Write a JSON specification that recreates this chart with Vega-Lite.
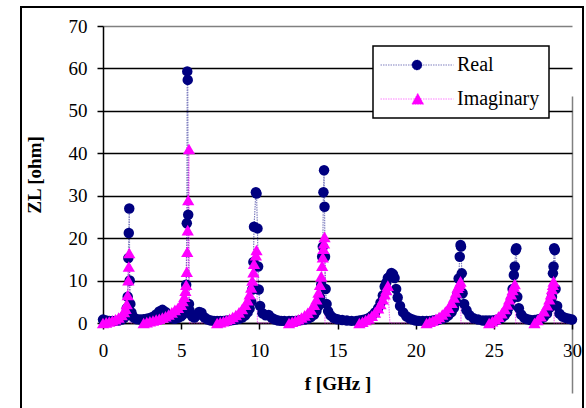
{
  "$schema": "https://vega.github.io/schema/vega-lite/v6.json",
  "width": 562,
  "height": 405,
  "autosize": {"type": "none"},
  "padding": {"left": 21, "top": 7, "right": 3, "bottom": 0},
  "background": "white",
  "config": {
    "font": "Liberation Serif",
    "view": {"stroke": "black", "strokeWidth": 2},
    "axis": {
      "labelFont": "Liberation Serif", "labelFontSize": 19, "labelColor": "black",
      "titleFont": "Liberation Serif", "titleFontSize": 19, "titleFontWeight": "bold", "titleColor": "black",
      "domainColor": "black", "domainWidth": 1.5, "tickColor": "black", "tickWidth": 1.5, "tickSize": 6
    }
  },
  "datasets": {
    "zl": [
      {"f": 0, "Real": 0.8, "Imaginary": 0},
      {"f": 0.2, "Real": 0.6, "Imaginary": 0.15},
      {"f": 0.4, "Real": 0.5, "Imaginary": 0.35},
      {"f": 0.6, "Real": 0.5, "Imaginary": 0.6},
      {"f": 0.8, "Real": 0.5, "Imaginary": 0.9},
      {"f": 1.0, "Real": 0.6, "Imaginary": 1.3},
      {"f": 1.2, "Real": 0.8, "Imaginary": 1.9},
      {"f": 1.35, "Real": 1.2, "Imaginary": 2.6},
      {"f": 1.45, "Real": 2.0, "Imaginary": 3.4},
      {"f": 1.52, "Real": 3.5, "Imaginary": 4.5},
      {"f": 1.58, "Real": 6.2, "Imaginary": 6.6},
      {"f": 1.62, "Real": 15.3, "Imaginary": 10.1},
      {"f": 1.65, "Real": 21.2, "Imaginary": 13.3},
      {"f": 1.68, "Real": 27, "Imaginary": 16.5},
      {"f": 1.71, "Real": 10, "Imaginary": -20},
      {"f": 1.75, "Real": 4.5, "Imaginary": -10},
      {"f": 1.82, "Real": 2.5, "Imaginary": -6},
      {"f": 1.9, "Real": 1.6, "Imaginary": -4},
      {"f": 2.0, "Real": 1.2, "Imaginary": -3},
      {"f": 2.2, "Real": 0.9, "Imaginary": -2},
      {"f": 2.4, "Real": 0.8, "Imaginary": -1},
      {"f": 2.6, "Real": 0.9, "Imaginary": 0},
      {"f": 2.8, "Real": 1.0, "Imaginary": 0.2},
      {"f": 3.0, "Real": 1.2, "Imaginary": 0.4},
      {"f": 3.2, "Real": 1.5, "Imaginary": 0.6},
      {"f": 3.4, "Real": 2.0, "Imaginary": 0.8},
      {"f": 3.6, "Real": 2.7, "Imaginary": 1.0},
      {"f": 3.8, "Real": 3.1, "Imaginary": 1.3},
      {"f": 4.0, "Real": 2.6, "Imaginary": 1.6},
      {"f": 4.2, "Real": 1.6, "Imaginary": 2.0},
      {"f": 4.4, "Real": 1.1, "Imaginary": 2.5},
      {"f": 4.6, "Real": 1.0, "Imaginary": 3.1},
      {"f": 4.8, "Real": 1.2, "Imaginary": 3.6},
      {"f": 5.0, "Real": 1.6, "Imaginary": 4.3},
      {"f": 5.1, "Real": 2.0, "Imaginary": 5.2},
      {"f": 5.2, "Real": 2.8, "Imaginary": 6.2},
      {"f": 5.27, "Real": 3.8, "Imaginary": 7.6},
      {"f": 5.32, "Real": 9.0, "Imaginary": 9.0},
      {"f": 5.36, "Real": 23.5, "Imaginary": 12.1},
      {"f": 5.39, "Real": 59.3, "Imaginary": 16.8},
      {"f": 5.42, "Real": 57.3, "Imaginary": 21.9},
      {"f": 5.45, "Real": 25.5, "Imaginary": 29},
      {"f": 5.5, "Real": 4.5, "Imaginary": 41},
      {"f": 5.53, "Real": 3.0, "Imaginary": -30},
      {"f": 5.6, "Real": 2.2, "Imaginary": -12},
      {"f": 5.7, "Real": 1.6, "Imaginary": -6},
      {"f": 5.85, "Real": 1.3, "Imaginary": -3.5},
      {"f": 6.0, "Real": 1.8, "Imaginary": -2.5},
      {"f": 6.15, "Real": 2.6, "Imaginary": -2},
      {"f": 6.3, "Real": 2.4, "Imaginary": -1.5},
      {"f": 6.5, "Real": 1.3, "Imaginary": -1},
      {"f": 6.7, "Real": 0.8, "Imaginary": -0.6},
      {"f": 6.9, "Real": 0.6, "Imaginary": -0.4},
      {"f": 7.1, "Real": 0.5, "Imaginary": -0.2},
      {"f": 7.3, "Real": 0.5, "Imaginary": 0},
      {"f": 7.5, "Real": 0.5, "Imaginary": 0.2},
      {"f": 7.7, "Real": 0.5, "Imaginary": 0.4},
      {"f": 7.9, "Real": 0.6, "Imaginary": 0.7},
      {"f": 8.1, "Real": 0.6, "Imaginary": 1.0},
      {"f": 8.3, "Real": 0.7, "Imaginary": 1.4},
      {"f": 8.5, "Real": 0.8, "Imaginary": 1.9},
      {"f": 8.7, "Real": 1.0, "Imaginary": 2.5},
      {"f": 8.9, "Real": 1.3, "Imaginary": 3.3},
      {"f": 9.1, "Real": 1.8, "Imaginary": 4.3},
      {"f": 9.25, "Real": 2.5, "Imaginary": 5.4},
      {"f": 9.38, "Real": 3.4, "Imaginary": 6.8},
      {"f": 9.48, "Real": 5.0, "Imaginary": 8.4},
      {"f": 9.55, "Real": 7.9, "Imaginary": 10.0},
      {"f": 9.62, "Real": 14.4, "Imaginary": 12.0},
      {"f": 9.66, "Real": 22.7, "Imaginary": 14.0},
      {"f": 9.78, "Real": 30.8, "Imaginary": 16.0},
      {"f": 9.82, "Real": 30.5, "Imaginary": 17.2},
      {"f": 9.88, "Real": 22.3, "Imaginary": -25},
      {"f": 9.92, "Real": 13.3, "Imaginary": -15},
      {"f": 9.96, "Real": 7.9, "Imaginary": -10},
      {"f": 10.05, "Real": 4.0, "Imaginary": -6},
      {"f": 10.2, "Real": 2.3, "Imaginary": -4},
      {"f": 10.4, "Real": 1.8, "Imaginary": -3},
      {"f": 10.6, "Real": 1.9, "Imaginary": -2},
      {"f": 10.8, "Real": 1.2, "Imaginary": -1.4},
      {"f": 11.0, "Real": 0.8, "Imaginary": -1},
      {"f": 11.2, "Real": 0.6, "Imaginary": -0.7},
      {"f": 11.4, "Real": 0.5, "Imaginary": -0.4},
      {"f": 11.6, "Real": 0.5, "Imaginary": -0.2},
      {"f": 11.9, "Real": 0.5, "Imaginary": 0},
      {"f": 12.1, "Real": 0.5, "Imaginary": 0.3},
      {"f": 12.3, "Real": 0.5, "Imaginary": 0.6},
      {"f": 12.5, "Real": 0.6, "Imaginary": 0.9},
      {"f": 12.7, "Real": 0.7, "Imaginary": 1.3},
      {"f": 12.9, "Real": 0.8, "Imaginary": 1.8},
      {"f": 13.1, "Real": 1.0, "Imaginary": 2.4},
      {"f": 13.3, "Real": 1.4, "Imaginary": 3.2},
      {"f": 13.5, "Real": 2.0, "Imaginary": 4.3},
      {"f": 13.65, "Real": 2.8, "Imaginary": 5.6},
      {"f": 13.78, "Real": 4.0, "Imaginary": 7.2},
      {"f": 13.88, "Real": 6.0, "Imaginary": 9.0},
      {"f": 13.96, "Real": 9.0, "Imaginary": 11.0},
      {"f": 14.02, "Real": 15.6, "Imaginary": 13.5},
      {"f": 14.06, "Real": 18.0, "Imaginary": 15.5},
      {"f": 14.1, "Real": 30.8, "Imaginary": 17.5},
      {"f": 14.14, "Real": 36.0, "Imaginary": 18.8},
      {"f": 14.17, "Real": 27.4, "Imaginary": 20.3},
      {"f": 14.2, "Real": 15.6, "Imaginary": -30},
      {"f": 14.24, "Real": 8.0, "Imaginary": -15},
      {"f": 14.3, "Real": 4.5, "Imaginary": -9},
      {"f": 14.4, "Real": 2.8, "Imaginary": -6},
      {"f": 14.55, "Real": 1.8, "Imaginary": -4},
      {"f": 14.75, "Real": 1.2, "Imaginary": -3},
      {"f": 15.0, "Real": 0.9, "Imaginary": -2.2},
      {"f": 15.3, "Real": 0.7, "Imaginary": -1.5},
      {"f": 15.6, "Real": 0.6, "Imaginary": -1.0},
      {"f": 15.9, "Real": 0.5, "Imaginary": -0.6},
      {"f": 16.2, "Real": 0.5, "Imaginary": -0.2},
      {"f": 16.4, "Real": 0.6, "Imaginary": 0},
      {"f": 16.6, "Real": 0.7, "Imaginary": 0.3},
      {"f": 16.8, "Real": 0.9, "Imaginary": 0.7},
      {"f": 17.0, "Real": 1.2, "Imaginary": 1.1},
      {"f": 17.2, "Real": 1.7, "Imaginary": 1.7},
      {"f": 17.4, "Real": 2.5, "Imaginary": 2.5},
      {"f": 17.6, "Real": 3.5, "Imaginary": 3.5},
      {"f": 17.75, "Real": 4.8, "Imaginary": 4.5},
      {"f": 17.9, "Real": 6.5, "Imaginary": 5.6},
      {"f": 18.02, "Real": 8.6, "Imaginary": 6.8},
      {"f": 18.12, "Real": 9.5, "Imaginary": 7.8},
      {"f": 18.22, "Real": 10.6, "Imaginary": 8.8},
      {"f": 18.35, "Real": 11.0, "Imaginary": -6},
      {"f": 18.45, "Real": 11.8, "Imaginary": -5},
      {"f": 18.55, "Real": 11.5, "Imaginary": -4.5},
      {"f": 18.65, "Real": 10.6, "Imaginary": -4},
      {"f": 18.75, "Real": 8.0, "Imaginary": -3.5},
      {"f": 18.85, "Real": 6.0, "Imaginary": -3},
      {"f": 19.0, "Real": 4.0, "Imaginary": -2.5},
      {"f": 19.2, "Real": 2.5, "Imaginary": -2},
      {"f": 19.4, "Real": 1.6, "Imaginary": -1.5},
      {"f": 19.6, "Real": 1.1, "Imaginary": -1.1},
      {"f": 19.8, "Real": 0.8, "Imaginary": -0.8},
      {"f": 20.0, "Real": 0.6, "Imaginary": -0.6},
      {"f": 20.2, "Real": 0.5, "Imaginary": -0.4},
      {"f": 20.45, "Real": 0.5, "Imaginary": -0.2},
      {"f": 20.7, "Real": 0.5, "Imaginary": 0},
      {"f": 20.9, "Real": 0.5, "Imaginary": 0.3},
      {"f": 21.1, "Real": 0.6, "Imaginary": 0.6},
      {"f": 21.3, "Real": 0.7, "Imaginary": 1.0},
      {"f": 21.5, "Real": 0.8, "Imaginary": 1.4},
      {"f": 21.7, "Real": 1.0, "Imaginary": 2.0},
      {"f": 21.9, "Real": 1.3, "Imaginary": 2.7},
      {"f": 22.1, "Real": 1.8, "Imaginary": 3.6},
      {"f": 22.3, "Real": 2.6, "Imaginary": 4.8},
      {"f": 22.45, "Real": 3.6, "Imaginary": 6.0},
      {"f": 22.58, "Real": 5.0, "Imaginary": 7.2},
      {"f": 22.68, "Real": 7.0, "Imaginary": 8.3},
      {"f": 22.75, "Real": 10.5, "Imaginary": 8.8},
      {"f": 22.82, "Real": 15.6, "Imaginary": 9.3},
      {"f": 22.87, "Real": 18.4, "Imaginary": 9.8},
      {"f": 22.9, "Real": 18.0, "Imaginary": -15},
      {"f": 22.95, "Real": 11.7, "Imaginary": -10},
      {"f": 23.0, "Real": 7.0, "Imaginary": -7},
      {"f": 23.1, "Real": 4.5, "Imaginary": -5},
      {"f": 23.25, "Real": 3.0, "Imaginary": -4},
      {"f": 23.45, "Real": 1.8, "Imaginary": -3},
      {"f": 23.7, "Real": 1.1, "Imaginary": -2},
      {"f": 24.0, "Real": 0.8, "Imaginary": -1.2},
      {"f": 24.3, "Real": 0.6, "Imaginary": -0.6},
      {"f": 24.5, "Real": 0.6, "Imaginary": -0.3},
      {"f": 24.7, "Real": 0.6, "Imaginary": 0},
      {"f": 24.9, "Real": 0.6, "Imaginary": 0.4},
      {"f": 25.1, "Real": 0.7, "Imaginary": 0.9},
      {"f": 25.3, "Real": 0.9, "Imaginary": 1.5},
      {"f": 25.5, "Real": 1.2, "Imaginary": 2.3},
      {"f": 25.7, "Real": 1.8, "Imaginary": 3.3},
      {"f": 25.85, "Real": 2.6, "Imaginary": 4.4},
      {"f": 25.98, "Real": 3.8, "Imaginary": 5.6},
      {"f": 26.1, "Real": 5.5, "Imaginary": 6.8},
      {"f": 26.2, "Real": 8.0, "Imaginary": 7.8},
      {"f": 26.28, "Real": 11.3, "Imaginary": 8.6},
      {"f": 26.34, "Real": 13.3, "Imaginary": 9.2},
      {"f": 26.4, "Real": 17.2, "Imaginary": -12},
      {"f": 26.44, "Real": 17.6, "Imaginary": -8},
      {"f": 26.5, "Real": 6.2, "Imaginary": -6},
      {"f": 26.6, "Real": 3.5, "Imaginary": -4.5},
      {"f": 26.75, "Real": 2.0, "Imaginary": -3.2},
      {"f": 26.95, "Real": 1.2, "Imaginary": -2},
      {"f": 27.15, "Real": 0.9, "Imaginary": -1.2},
      {"f": 27.35, "Real": 0.7, "Imaginary": -0.5},
      {"f": 27.6, "Real": 0.7, "Imaginary": 0},
      {"f": 27.8, "Real": 0.8, "Imaginary": 0.7},
      {"f": 28.0, "Real": 1.0, "Imaginary": 1.6},
      {"f": 28.2, "Real": 1.4, "Imaginary": 2.8},
      {"f": 28.4, "Real": 2.2, "Imaginary": 4.2},
      {"f": 28.55, "Real": 3.5, "Imaginary": 5.6},
      {"f": 28.65, "Real": 5.0, "Imaginary": 6.8},
      {"f": 28.72, "Real": 6.2, "Imaginary": 8.0},
      {"f": 28.78, "Real": 11.7, "Imaginary": 9.0},
      {"f": 28.82, "Real": 13.3, "Imaginary": 9.8},
      {"f": 28.86, "Real": 17.6, "Imaginary": -12},
      {"f": 28.9, "Real": 17.2, "Imaginary": -8},
      {"f": 28.95, "Real": 8.0, "Imaginary": -6},
      {"f": 29.05, "Real": 4.0, "Imaginary": -4.5},
      {"f": 29.2, "Real": 2.2, "Imaginary": -3.2},
      {"f": 29.4, "Real": 1.5, "Imaginary": -2.2},
      {"f": 29.6, "Real": 1.2, "Imaginary": -1.5},
      {"f": 29.8, "Real": 1.0, "Imaginary": -1.0},
      {"f": 30.0, "Real": 0.8, "Imaginary": -0.6}
    ]
  },
  "data": {"name": "zl"},
  "transform": [{"fold": ["Real", "Imaginary"], "as": ["series", "z"]}],
  "encoding": {
    "x": {
      "field": "f", "type": "quantitative",
      "scale": {"domain": [0, 30], "nice": false, "zero": false, "range": [82, 551]},
      "axis": {
        "title": "f [GHz ]", "values": [0, 5, 10, 15, 20, 25, 30], "offset": -89,
        "grid": true, "gridColor": "#808080", "gridWidth": 1.5,
        "gridOpacity": {"condition": {"test": "datum.value === 30", "value": 1}, "value": 0},
        "labelFlush": false, "labelPadding": 12, "titlePadding": 14
      }
    },
    "y": {
      "field": "z", "type": "quantitative",
      "scale": {"domain": [0, 70], "nice": false, "clamp": true, "range": [316, 19]},
      "axis": {
        "title": "ZL [ohm]", "values": [0, 10, 20, 30, 40, 50, 60, 70], "offset": -82,
        "grid": true,
        "gridColor": {"condition": {"test": "datum.value === 70", "value": "#808080"}, "value": "black"},
        "gridWidth": 1.5, "labelPadding": 10, "titlePadding": 24
      }
    },
    "color": {
      "field": "series", "type": "nominal",
      "scale": {"domain": ["Real", "Imaginary"], "range": ["#000080", "#ff00ff"]}
    }
  },
  "layer": [
    {
      "transform": [{"filter": "datum.series === 'Imaginary'"}],
      "mark": {"type": "line", "strokeWidth": 1.2, "strokeDash": [1.5, 1], "opacity": 0.6},
      "encoding": {
        "color": {
          "field": "series", "type": "nominal",
          "legend": {
            "title": null, "orient": "none", "legendX": 352, "legendY": 39,
            "padding": 9, "symbolSize": 100, "symbolOffset": 25, "labelOffset": 30, "rowPadding": 14,
            "strokeColor": "black", "fillColor": "white",
            "labelFont": "Liberation Serif", "labelFontSize": 20, "labelColor": "black",
            "encoding": {
              "legend": {"strokeWidth": {"value": 1.5}},
              "symbols": {
                "shape": {"condition": {"test": "datum.value === 'Real'", "value": "M-7.3,0H7.3M-1,0A1,1 0 1,1 1,0A1,1 0 1,1 -1,0Z"}, "value": "M-7.3,0H7.3M0.15,-1.15L1.35,1.05L-1.05,1.05Z"},
                "size": {"value": 100},
                "fill": {"condition": {"test": "datum.value === 'Real'", "value": "#000080"}, "value": "#ff00ff"},
                "stroke": {"condition": {"test": "datum.value === 'Real'", "value": "#000080"}, "value": "#ff00ff"},
                "strokeWidth": {"value": 1},
                "strokeDash": {"value": [1.5, 1]},
                "opacity": {"value": 1},
                "fillOpacity": {"value": 1},
                "strokeOpacity": {"value": 0.5}
              }
            }
          }
        }
      }
    },
    {
      "transform": [{"filter": "datum.series === 'Real'"}],
      "mark": {"type": "line", "strokeWidth": 1.2, "strokeDash": [1.5, 1], "opacity": 0.5}
    },
    {
      "transform": [{"filter": "datum.series === 'Real'"}],
      "mark": {"type": "point", "shape": "circle", "filled": true, "size": 110, "opacity": 1}
    },
    {
      "transform": [{"filter": "datum.series === 'Imaginary' && datum.z >= 0"}],
      "mark": {"type": "point", "shape": "triangle-up", "filled": true, "size": 150, "opacity": 1}
    }
  ]
}
